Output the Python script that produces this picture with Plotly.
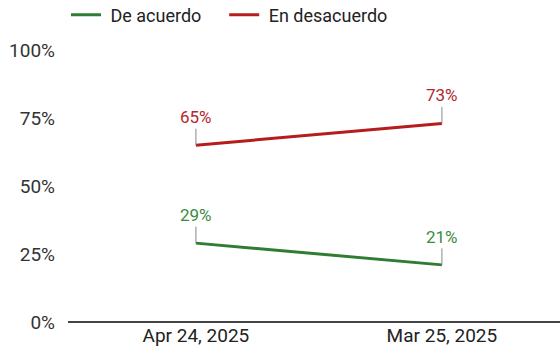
import plotly.graph_objects as go

categories = ["Apr 24, 2025", "Mar 25, 2025"]
de_acuerdo = [29, 21]
en_desacuerdo = [65, 73]
y_ticks = [0, 25, 50, 75, 100]
y_tick_labels = ["0%", "25%", "50%", "75%", "100%"]

GREEN = "#2e7d32"
RED = "#b71c1c"
GREEN_TXT = "#3d8b40"
RED_TXT = "#b3282d"

NB = "\u00a0"

fig = go.Figure()
fig.add_trace(go.Scatter(x=[0, 1], y=de_acuerdo, mode="lines", name=NB + "De acuerdo" + NB * 4,
                         line=dict(color=GREEN, width=3)))
fig.add_trace(go.Scatter(x=[0, 1], y=en_desacuerdo, mode="lines", name=NB + "En desacuerdo",
                         line=dict(color=RED, width=3)))

anns = []
for vals, col in [(de_acuerdo, GREEN_TXT), (en_desacuerdo, RED_TXT)]:
    for i, v in enumerate(vals):
        anns.append(dict(x=i, y=v, xref="x", yref="y", text=f"{v}%", showarrow=True,
                         ax=0, ay=-28, arrowhead=0, arrowwidth=1, arrowcolor="#888888",
                         standoff=0, font=dict(family="Roboto", size=17, color=col)))

fig.update_layout(
    width=560, height=357,
    margin=dict(l=68, r=0, t=50, b=35, autoexpand=False),
    paper_bgcolor="white", plot_bgcolor="white",
    font=dict(family="Roboto", size=18, color="#333333"),
    showlegend=True,
    legend=dict(orientation="h", x=66 / 560, xref="container", xanchor="left",
                y=1 - 15 / 357, yref="container", yanchor="middle",
                font=dict(size=18, color="#222222"), tracegroupgap=0),
    annotations=anns,
    xaxis=dict(range=[-0.52, 1.48], tickmode="array", tickvals=[0, 1], ticktext=categories,
               showgrid=False, zeroline=False, showline=False, ticks="",
               tickfont=dict(size=19, color="#222222")),
    yaxis=dict(range=[0, 100], tickmode="array", tickvals=y_ticks, ticktext=y_tick_labels,
               showgrid=False, zeroline=True, zerolinecolor="#444444", zerolinewidth=2,
               showline=False, ticks="", ticklabelstandoff=12,
               tickfont=dict(size=19, color="#333333")),
)
fig.write_html("out.html", config={"displayModeBar": False},
               post_script="document.body.style.margin='0';")
